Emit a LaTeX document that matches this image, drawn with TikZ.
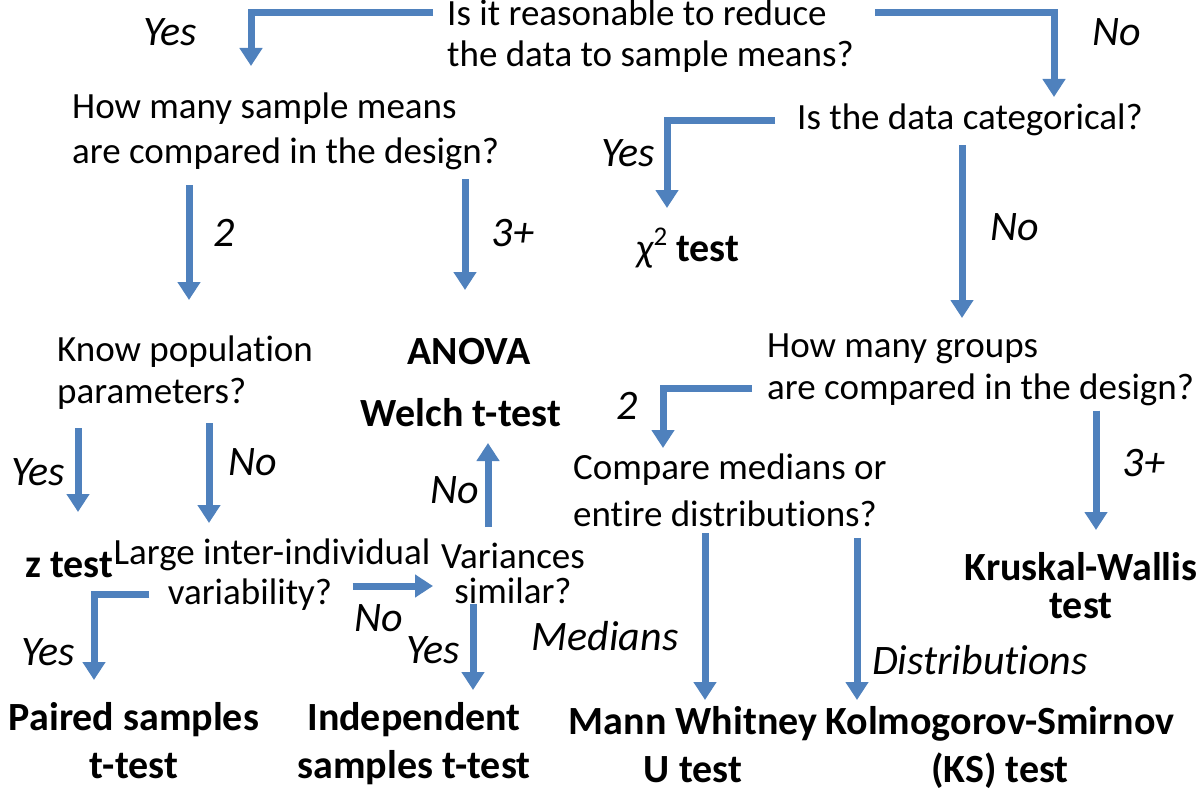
\documentclass[tikz,border=0pt]{standalone}
\usepackage{fontspec}
\setmainfont{Carlito}[Ligatures=NoCommon]
\usetikzlibrary{arrows.meta}
\definecolor{flowblue}{RGB}{79,129,189}
\newcommand\qsize[1]{\fontsize{37}{#1}\selectfont}
\newcommand\rsize[1]{\fontsize{40}{#1}\selectfont}
\tikzset{
  quest/.style={inner sep=0pt, align=left, font=\qsize{#1}},
  quest/.default=43,
  split/.style={inner sep=0pt, align=center, font=\qsize{#1}},
  result/.style={inner sep=0pt, align=center, font=\bfseries\rsize{#1}},
  result/.default=48,
  answer/.style={inner sep=0pt, font=\itshape\fontsize{42}{42}\selectfont},
  flow/.style={draw=flowblue, line width=7pt, -{Triangle[width=22pt,length=18pt]}},
}
\begin{document}
\begin{tikzpicture}[x=1pt,y=-1pt]
  \useasboundingbox (0,0) rectangle (1203,792);
  % questions
  \node[quest=41, anchor=north west] (reduce) at (447,0) {Is it reasonable to reduce\\the data to sample means?};
  \node[quest=45, anchor=north west] (means) at (72,93) {How many sample means\\are compared in the design?};
  \node[quest, anchor=west] (categ) at (797,120) {Is the data categorical?};
  \node[quest=42, anchor=north west] (know) at (57,336) {Know population\\parameters?};
  \node[quest=42, anchor=north west] (groups) at (767,334) {How many groups\\are compared in the design?};
  \node[quest=47, anchor=north west] (cmp) at (573,454) {Compare medians or\\entire distributions?};
  \node[split=40, anchor=north] (large) at (272,539) {Large inter-individual\\variability?\hspace*{44pt}};
  \node[split=35, anchor=north] (var) at (513,543) {Variances\\similar?};
  % tests
  \node[result] (chi) at (688,248) {{\mdseries{\itshape χ}\raisebox{0.4em}{\fontsize{27}{27}\selectfont 2}} test};
  \node[result] (anova) at (469,352) {ANOVA};
  \node[result] (welch) at (461,413) {Welch t-test};
  \node[result] (ztest) at (69,565) {z test};
  \node[result=38, anchor=north] (kw) at (1081,552) {Kruskal-Wallis\\test};
  \node[result, anchor=north] (paired) at (134,702) {Paired samples\\t-test};
  \node[result, anchor=north] (indep) at (414,702) {Independent\\samples t-test};
  \node[result, anchor=north] (mann) at (693,706) {Mann Whitney\\U test};
  \node[result, anchor=north] (ks) at (1000,706) {Kolmogorov-Smirnov\\(KS) test};
  % arrow ends
  \coordinate (means-in) at (251,66);
  \coordinate (categ-in) at (1054,97);
  \coordinate (chi-in) at (667,208);
  \coordinate (groups-in) at (962,318);
  \coordinate (know-in) at (189,300);
  \coordinate (anova-in) at (465,290);
  \coordinate (cmp-in) at (663,448);
  \coordinate (kw-in) at (1096,530);
  \coordinate (z-in) at (78,512);
  \coordinate (large-in) at (209,523);
  \coordinate (welch-in) at (488,443);
  \coordinate (var-in) at (433,586);
  \coordinate (paired-in) at (94,680);
  \coordinate (indep-in) at (473,690);
  \coordinate (mann-in) at (705,700);
  \coordinate (ks-in) at (857,700);
  % arrows
  \draw[flow] ([xshift=-14pt,yshift=-13pt]reduce.north west) -| (means-in);
  \draw[flow] ([xshift=21pt,yshift=-13pt]reduce.north east) -| (categ-in);
  \draw[flow] ([xshift=-22pt]categ.west) -| (chi-in);
  \draw[flow, shorten <=9pt] (categ.south -| groups-in) -- (groups-in);
  \draw[flow, shorten <=15pt] (means.south -| know-in) -- (know-in);
  \draw[flow, shorten <=9pt] (means.south -| anova-in) -- (anova-in);
  \draw[flow] ([xshift=-15pt,yshift=-54pt]groups.north west) -| (cmp-in);
  \draw[flow, shorten <=4pt] (groups.south -| kw-in) -- (kw-in);
  \draw[flow, shorten <=18pt] (know.south -| z-in) -- (z-in);
  \draw[flow, shorten <=13pt] (know.south -| large-in) -- (large-in);
  \draw[flow] ([yshift=16pt]var.north -| welch-in) -- (welch-in);
  \draw[flow] ([xshift=-78pt]large.east |- var-in) -- (var-in);
  \draw[flow] ([xshift=36pt,yshift=-19pt]large.west) -| (paired-in);
  \draw[flow] (var.south -| indep-in) -- (indep-in);
  \draw[flow, shorten <=6pt] (cmp.south -| mann-in) -- (mann-in);
  \draw[flow, shorten <=11pt] (cmp.south -| ks-in) -- (ks-in);
  % answers
  \node[answer] at (170,32) {Yes};
  \node[answer] at (1117,32) {No};
  \node[answer] at (628,153) {Yes};
  \node[answer] at (1015,227) {No};
  \node[answer] at (224,233) {2};
  \node[answer] at (513,233) {3+};
  \node[answer] at (627,406) {2};
  \node[answer] at (1144,463) {3+};
  \node[answer] at (38,472) {Yes};
  \node[answer] at (253,462) {No};
  \node[answer] at (455,490) {No};
  \node[answer] at (379,618) {No};
  \node[answer] at (48,652) {Yes};
  \node[answer] at (433,650) {Yes};
  \node[answer] at (605,636) {Medians};
  \node[answer] at (980,660) {Distributions};
\end{tikzpicture}
\end{document}
